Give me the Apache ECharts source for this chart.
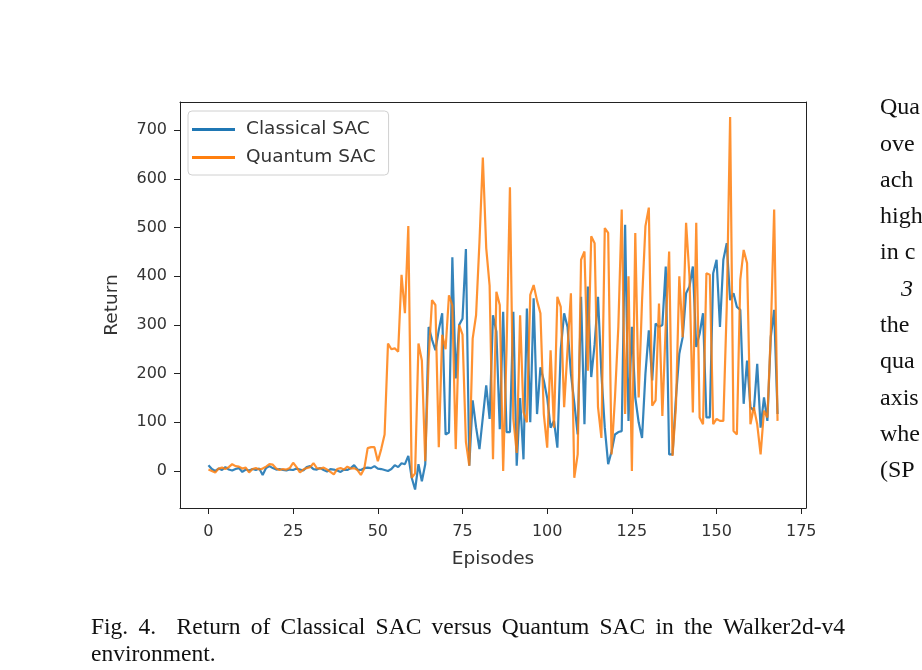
<!DOCTYPE html>
<html>
<head>
<meta charset="utf-8">
<script src="https://cdn.jsdelivr.net/npm/echarts@6/dist/echarts.min.js"></script>
<style>
  html, body { margin: 0; padding: 0; background: #fff; }
  #chart { width: 922px; height: 670px; }
</style>
</head>
<body>
<div id="chart"></div>
<script>
// episode returns (episodes 0..168)
var classicalSac = [
  12, 4, 0, 5, 2, 8, 3, 1, 4, 6, -2, 3, 1, 4, 2, 5, -8, 6, 10, 6,
  3, 4, 2, 1, 3, 2, 5, 3, 1, 8, 10, 4, 3, 6, 2, -1, 4, 3, 1, -2,
  3, 2, 6, 12, 3, 2, 6, 7, 6, 10, 5, 4, 2, 0, 4, 12, 8, 16, 14, 31,
  -14, -38, 14, -21, 14, 296, 270, 248, 290, 324, 75, 79, 439, 190, 300, 313, 456, 11, 145, 90,
  45, 110, 176, 107, 320, 286, 86, 327, 80, 80, 327, 11, 150, 24, 334, 100, 355, 117, 213, 186,
  150, 89, 103, 48, 250, 324, 296, 200, 140, 75, 358, 96, 379, 193, 260, 358, 200, 89, 14, 40,
  75, 80, 82, 506, 103, 296, 151, 100, 68, 200, 289, 186, 303, 296, 300, 420, 34, 34, 150, 241,
  275, 365, 379, 420, 255, 282, 324, 110, 110, 406, 434, 296, 434, 468, 351, 365, 337, 331, 138, 227,
  131, 124, 220, 89, 151, 103, 275, 331, 117
];
var quantumSac = [
  3, 0, -3, 5, 7, 4, 8, 14, 10, 9, 5, 7, -3, 4, 6, 3, 5, 9, 14, 13,
  5, 2, 4, 3, 6, 17, 8, -3, 3, 6, 8, 16, 6, 5, 7, 3, -2, -7, 4, 6,
  3, 9, 5, 6, 2, -8, 5, 47, 49, 49, 20, 45, 75, 262, 250, 252, 245, 403, 324, 503,
  -14, -5, 262, 227, 20, 230, 351, 341, 49, 280, 250, 361, 340, 45, 300, 280, 60, 11, 272, 320,
  470, 644, 458, 381, 24, 368, 341, 0, 250, 583, 107, 37, 320, 121, 100, 362, 382, 350, 324, 117,
  48, 248, 89, 358, 337, 131, 250, 365, -14, 34, 434, 451, 206, 482, 468, 131, 68, 499, 489, 34,
  150, 296, 537, 117, 400, 0, 489, 151, 350, 503, 541, 134, 145, 344, 113, 300, 451, 31, 131, 400,
  275, 510, 400, 120, 510, 110, 96, 406, 403, 96, 107, 103, 103, 337, 727, 82, 75, 393, 454, 427,
  96, 131, 96, 34, 124, 110, 282, 537, 103
];
var xTicks = [0, 25, 50, 75, 100, 125, 150, 175];
var yTicks = [0, 100, 200, 300, 400, 500, 600, 700];

var captionLine1 = 'Fig. 4.  Return of Classical SAC versus Quantum SAC in the Walker2d-v4';
var captionLine2 = 'environment.';
var sideText = ['Qua', 'ove', 'ach', 'high', 'in c', '3', 'the', 'qua', 'axis', 'whe', '(SP'];

function toPairs(arr) {
  return arr.map(function (v, i) { return [i, v]; });
}

var capFont = '23.5px "Liberation Serif"';
var sideFont = '24px "Liberation Serif"';

// spread the first caption line over the column width (justified text)
function justified(text, x0, x1, top) {
  var ctx = document.createElement('canvas').getContext('2d');
  ctx.font = capFont;
  var words = text.split(/ +/);
  var widths = words.map(function (w) { return ctx.measureText(w).width; });
  var total = widths.reduce(function (a, b) { return a + b; }, 0);
  // "Fig. 4." is followed by a double space
  var gapUnits = words.length - 1 + 1;
  var gap = (x1 - x0 - total) / gapUnits;
  var x = x0;
  return words.map(function (w, i) {
    var el = { type: 'text', left: x, top: top, style: { text: w, font: capFont, fill: '#111' } };
    x += widths[i] + gap * (i === 1 ? 2 : 1);
    return el;
  });
}

var myChart = echarts.init(document.getElementById('chart'));

var axisCol = '#222';
var labelCol = '#333';

var sideGraphics = sideText.map(function (t, i) {
  return {
    type: 'text',
    left: t === '3' ? 901 : 880,
    top: 96 + i * 36.3,
    style: {
      text: t,
      font: (t === '3' ? 'italic ' : '') + sideFont,
      fill: '#111'
    }
  };
});

var option = {
  animation: false,
  grid: { left: 180, right: 116, top: 102, bottom: 162 },
  legend: {
    left: 188,
    top: 111,
    orient: 'vertical',
    itemWidth: 43,
    itemHeight: 3,
    itemGap: 9,
    icon: 'rect',
    padding: [9, 13, 8, 4],
    borderColor: '#d0d0d0',
    borderWidth: 1,
    borderRadius: 4,
    backgroundColor: '#fff',
    textStyle: { fontFamily: 'DejaVu Sans', fontSize: 18.5, color: labelCol, padding: [0, 0, 0, 6] },
    data: ['Classical SAC', 'Quantum SAC']
  },
  xAxis: [{
    type: 'value',
    min: -8.4,
    max: 176.4,
    name: 'Episodes',
    nameLocation: 'middle',
    nameGap: 42,
    nameTextStyle: { fontFamily: 'DejaVu Sans', fontSize: 18.5, color: labelCol },
    axisLine: { onZero: false, lineStyle: { color: axisCol, width: 1 } },
    axisTick: { customValues: xTicks, length: 6, lineStyle: { color: axisCol } },
    axisLabel: { customValues: xTicks, fontFamily: 'DejaVu Sans', fontSize: 16, color: labelCol, margin: 16 },
    splitLine: { show: false }
  }, {
    type: 'value',
    position: 'top',
    min: -8.4,
    max: 176.4,
    axisLine: { onZero: false, lineStyle: { color: axisCol, width: 1 } },
    axisTick: { show: false },
    axisLabel: { show: false },
    splitLine: { show: false }
  }],
  yAxis: [{
    type: 'value',
    min: -76,
    max: 758,
    name: 'Return',
    nameLocation: 'middle',
    nameRotate: 90,
    nameGap: 58,
    nameTextStyle: { fontFamily: 'DejaVu Sans', fontSize: 18.5, color: labelCol },
    axisLine: { show: true, onZero: false, lineStyle: { color: axisCol, width: 1 } },
    axisTick: { show: true, customValues: yTicks, length: 6, lineStyle: { color: axisCol } },
    axisLabel: { customValues: yTicks, fontFamily: 'DejaVu Sans', fontSize: 16, color: labelCol, margin: 13 },
    splitLine: { show: false }
  }, {
    type: 'value',
    position: 'right',
    min: -76,
    max: 758,
    axisLine: { show: true, onZero: false, lineStyle: { color: axisCol, width: 1 } },
    axisTick: { show: false },
    axisLabel: { show: false },
    splitLine: { show: false }
  }],
  series: [{
    name: 'Classical SAC',
    type: 'line',
    showSymbol: false,
    color: '#1f77b4',
    lineStyle: { width: 2.2, color: '#1f77b4', opacity: 0.9 },
    data: toPairs(classicalSac)
  }, {
    name: 'Quantum SAC',
    type: 'line',
    showSymbol: false,
    color: '#ff7f0e',
    lineStyle: { width: 2.2, color: '#ff7f0e', opacity: 0.85 },
    data: toPairs(quantumSac)
  }],
  graphic: justified(captionLine1, 91, 845, 616).concat([{
    type: 'text',
    left: 91,
    top: 643,
    style: { text: captionLine2, font: capFont, fill: '#111' }
  }]).concat(sideGraphics)
};

myChart.setOption(option);
window.addEventListener('resize', function () {
  myChart.resize();
});
</script>
</body>
</html>
